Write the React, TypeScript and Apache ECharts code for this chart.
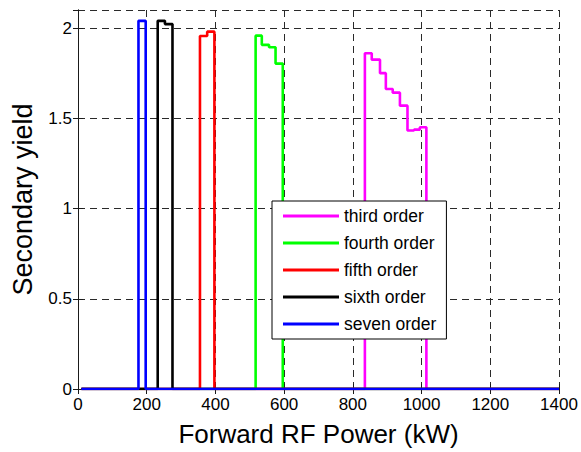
import React, { useEffect, useRef } from "react";
import * as echarts from "echarts";

// Step edges (kW) and the secondary yield on each step
const seriesNames = ["third order", "fourth order", "fifth order", "sixth order", "seven order"];
const seriesColors = ["#FF00FF", "#00FF00", "#FF0000", "#000000", "#0000FF"];

const thirdEdges = [835, 855, 879, 896, 916, 937, 959, 978, 995, 1014];
const thirdValues = [1.86, 1.825, 1.75, 1.662, 1.642, 1.57, 1.432, 1.437, 1.45];

const fourthEdges = [517, 535, 556, 575, 596];
const fourthValues = [1.958, 1.907, 1.894, 1.803];

const fifthEdges = [355, 376, 397];
const fifthValues = [1.956, 1.98];

const sixthEdges = [232, 253, 275];
const sixthValues = [2.04, 2.022];

const seventhEdges = [176, 197];
const seventhValues = [2.04];

const xStart = 10;
const xEnd = 1400;

const xTicks = [0, 200, 400, 600, 800, 1000, 1200, 1400];
const yTicks = [0, 0.5, 1, 1.5, 2];

const allEdges = [thirdEdges, fourthEdges, fifthEdges, sixthEdges, seventhEdges];
const allValues = [thirdValues, fourthValues, fifthValues, sixthValues, seventhValues];

function buildSteps(edges: number[], values: number[]): number[][] {
  const pts: number[][] = [[xStart, 0]];
  edges.forEach((e, i) => {
    pts.push([e, i < values.length ? values[i] : 0]);
  });
  pts.push([xEnd, 0]);
  return pts;
}

const FONT = "'Liberation Sans', Arial, Helvetica, sans-serif";

export default function App() {
  const ref = useRef<HTMLDivElement>(null);

  useEffect(() => {
    document.body.style.margin = "0";
    if (!ref.current) return;
    const chart = echarts.init(ref.current, undefined, { renderer: "svg" });

    const gridLine = { show: true, lineStyle: { color: "#2a2a2a", width: 1, type: [7, 5] as number[] } };
    const axisLine = { show: true, lineStyle: { color: "#1a1a1a", width: 1 } };
    const tick = { show: true, inside: true, length: 5, lineStyle: { color: "#1a1a1a" } };
    const plain = (v: number) => String(v);

    const option: any = {
      animation: false,
      backgroundColor: "#ffffff",
      textStyle: { fontFamily: FONT, color: "#000" },
      grid: { left: 78, right: 22, top: 10, bottom: 59, containLabel: false },
      legend: {
        data: seriesNames,
        orient: "vertical",
        left: 272,
        top: 201,
        icon: "rect",
        itemWidth: 56,
        itemHeight: 3,
        itemGap: 9,
        padding: [6, 10, 6, 11],
        backgroundColor: "#ffffff",
        borderColor: "#000",
        borderWidth: 1,
        borderRadius: 0,
        textStyle: { fontFamily: FONT, fontSize: 17.5, color: "#000" },
      },
      xAxis: [
        {
          type: "value",
          min: xTicks[0],
          max: xTicks[xTicks.length - 1],
          interval: xTicks[1] - xTicks[0],
          name: "Forward RF Power (kW)",
          nameLocation: "middle",
          nameGap: 32,
          nameTextStyle: { fontFamily: FONT, fontSize: 26, color: "#000" },
          axisLine,
          axisTick: tick,
          axisLabel: { fontFamily: FONT, fontSize: 17, color: "#000", margin: 7, formatter: plain },
          splitLine: gridLine,
        },
        {
          type: "value",
          position: "top",
          min: xTicks[0],
          max: xTicks[xTicks.length - 1],
          interval: xTicks[1] - xTicks[0],
          axisLine,
          axisTick: tick,
          axisLabel: { show: false },
          splitLine: { show: false },
        },
      ],
      yAxis: [
        {
          type: "value",
          min: yTicks[0],
          max: 2.1,
          interval: yTicks[1] - yTicks[0],
          name: "Secondary yield",
          nameLocation: "middle",
          nameGap: 42,
          nameTextStyle: { fontFamily: FONT, fontSize: 27, color: "#000" },
          axisLine,
          axisTick: tick,
          axisLabel: { fontFamily: FONT, fontSize: 17, color: "#000", margin: 6, showMaxLabel: false, formatter: plain },
          splitLine: gridLine,
        },
        {
          type: "value",
          position: "right",
          min: yTicks[0],
          max: 2.1,
          interval: yTicks[1] - yTicks[0],
          axisLine,
          axisTick: tick,
          axisLabel: { show: false },
          splitLine: { show: false },
        },
      ],
      series: seriesNames.map((name, i) => ({
        name,
        type: "line",
        step: "end",
        symbol: "none",
        xAxisIndex: 0,
        yAxisIndex: 0,
        color: seriesColors[i],
        lineStyle: { color: seriesColors[i], width: 2.6 },
        itemStyle: { color: seriesColors[i] },
        data: buildSteps(allEdges[i], allValues[i]),
      })),
    };

    chart.setOption(option);
    return () => chart.dispose();
  }, []);

  return (
    <div
      ref={ref}
      style={{ position: "absolute", left: 0, top: 0, width: 581, height: 452, background: "#fff" }}
    />
  );
}
